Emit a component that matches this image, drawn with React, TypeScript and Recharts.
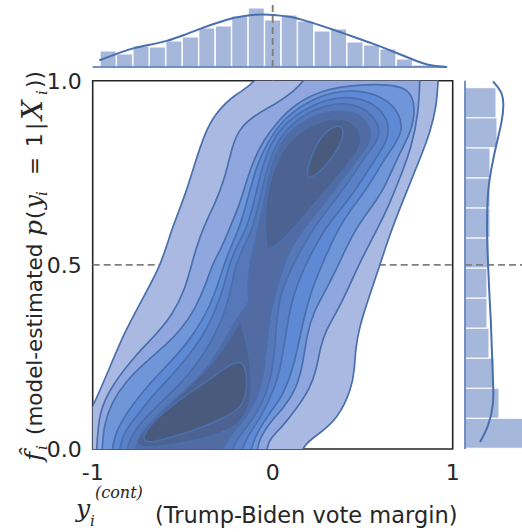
import React from "react";
import {
  Bar,
  ComposedChart,
  ReferenceArea,
  ReferenceLine,
  Scatter,
  ScatterChart,
  XAxis,
  YAxis,
} from "recharts";

// ---------------------------------------------------------------------------
// Data
// ---------------------------------------------------------------------------

const X_TICKS = [-1, 0, 1];
const Y_TICKS = [0, 0.5, 1];

type Pt = [number, number];

// KDE contour bands (x = vote margin, y = model estimate), outermost first.
// Points past the frame are clipped by the plot area.
const level1: Pt[] = [
  [-1.15, -0.02], [-1.0, 0.11], [-0.89, 0.24], [-0.82, 0.32], [-0.71, 0.42], [-0.62, 0.5],
  [-0.56, 0.6], [-0.485, 0.69], [-0.43, 0.78], [-0.375, 0.86], [-0.32, 0.91], [-0.21, 0.965],
  [-0.06, 1.0], [0.03, 1.15], [0.93, 1.15], [0.92, 1.0], [0.91, 0.93], [0.875, 0.86],
  [0.82, 0.79], [0.745, 0.7], [0.655, 0.59], [0.596, 0.5], [0.54, 0.42], [0.48, 0.33],
  [0.46, 0.27], [0.455, 0.22], [0.44, 0.165], [0.36, 0.08], [0.245, 0.037], [0.14, 0.0],
  [0.08, -0.15], [-1.15, -0.15],
];
const level2: Pt[] = [
  [-0.99, -0.15], [-0.978, 0.0], [-0.967, 0.1], [-0.893, 0.173], [-0.763, 0.254],
  [-0.652, 0.309], [-0.559, 0.363], [-0.485, 0.435], [-0.448, 0.508], [-0.393, 0.595],
  [-0.319, 0.667], [-0.263, 0.739], [-0.226, 0.821], [-0.189, 0.866], [-0.115, 0.902],
  [0.006, 0.934], [0.217, 1.0], [0.26, 1.15], [0.82, 1.15], [0.819, 1.0], [0.809, 0.911],
  [0.772, 0.821], [0.717, 0.748], [0.643, 0.658], [0.569, 0.586], [0.476, 0.499],
  [0.42, 0.435], [0.356, 0.372], [0.291, 0.318], [0.263, 0.272], [0.244, 0.218],
  [0.207, 0.164], [0.133, 0.11], [0.059, 0.064], [-0.015, 0.028], [-0.04, 0.0], [-0.06, -0.15],
];
const level3: Pt[] = [
  [-0.96, -0.15], [-0.948, 0.0], [-0.939, 0.064], [-0.893, 0.128], [-0.819, 0.182],
  [-0.707, 0.236], [-0.596, 0.281], [-0.504, 0.327], [-0.43, 0.381], [-0.374, 0.444],
  [-0.337, 0.5], [-0.281, 0.549], [-0.23, 0.61], [-0.18, 0.67], [-0.15, 0.72], [-0.11, 0.78],
  [-0.05, 0.84], [0.03, 0.89], [0.12, 0.935], [0.27, 0.975], [0.47, 0.99], [0.67, 0.99],
  [0.76, 0.975], [0.795, 0.93], [0.77, 0.86], [0.7, 0.8], [0.615, 0.7], [0.53, 0.645],
  [0.45, 0.59], [0.365, 0.5], [0.3, 0.435], [0.226, 0.372], [0.189, 0.309], [0.17, 0.236],
  [0.133, 0.164], [0.059, 0.11], [-0.015, 0.073], [-0.07, 0.03], [-0.09, 0.0], [-0.11, -0.15],
];
const level4: Pt[] = [
  [-0.91, -0.15], [-0.9, 0.0], [-0.86, 0.06], [-0.78, 0.12], [-0.68, 0.18], [-0.57, 0.235],
  [-0.47, 0.29], [-0.39, 0.35], [-0.33, 0.41], [-0.29, 0.47], [-0.25, 0.53], [-0.185, 0.6],
  [-0.15, 0.66], [-0.117, 0.72], [-0.08, 0.78], [-0.02, 0.84], [0.06, 0.895], [0.18, 0.94],
  [0.33, 0.97], [0.48, 0.975], [0.62, 0.955], [0.71, 0.91], [0.72, 0.86], [0.67, 0.82],
  [0.61, 0.78], [0.53, 0.71], [0.44, 0.655], [0.365, 0.6], [0.272, 0.5], [0.207, 0.42],
  [0.161, 0.33], [0.124, 0.236], [0.06, 0.146], [-0.015, 0.1], [-0.08, 0.05], [-0.13, 0.0],
  [-0.15, -0.15],
];
const level5: Pt[] = [
  [-0.87, -0.15], [-0.86, 0.0], [-0.82, 0.05], [-0.74, 0.1], [-0.64, 0.16], [-0.54, 0.21],
  [-0.44, 0.27], [-0.36, 0.33], [-0.3, 0.4], [-0.26, 0.46], [-0.244, 0.5], [-0.19, 0.56],
  [-0.144, 0.6], [-0.11, 0.66], [-0.08, 0.72], [-0.05, 0.78], [0.0, 0.84], [0.08, 0.89],
  [0.2, 0.93], [0.34, 0.955], [0.48, 0.955], [0.59, 0.93], [0.655, 0.88], [0.63, 0.83],
  [0.56, 0.78], [0.47, 0.71], [0.37, 0.645], [0.29, 0.6], [0.18, 0.5], [0.115, 0.42],
  [0.085, 0.35], [0.06, 0.27], [0.03, 0.19], [-0.03, 0.12], [-0.1, 0.06], [-0.19, 0.0],
  [-0.21, -0.15],
];
const level6: Pt[] = [
  [-0.83, -0.15], [-0.82, 0.0], [-0.77, 0.05], [-0.68, 0.1], [-0.57, 0.15], [-0.47, 0.2],
  [-0.38, 0.26], [-0.31, 0.32], [-0.26, 0.38], [-0.225, 0.45], [-0.207, 0.5], [-0.16, 0.55],
  [-0.111, 0.6], [-0.08, 0.66], [-0.052, 0.72], [-0.02, 0.78], [0.03, 0.84], [0.12, 0.89],
  [0.24, 0.925], [0.36, 0.94], [0.47, 0.935], [0.56, 0.905], [0.6, 0.865], [0.575, 0.83],
  [0.52, 0.8], [0.43, 0.73], [0.32, 0.66], [0.226, 0.6], [0.11, 0.5], [0.04, 0.42],
  [0.02, 0.34], [0.01, 0.26], [-0.01, 0.19], [-0.06, 0.12], [-0.14, 0.06], [-0.25, 0.0],
  [-0.27, -0.15],
];
const level7: Pt[] = [
  [-0.79, -0.15], [-0.78, 0.0], [-0.72, 0.04], [-0.62, 0.09], [-0.51, 0.14], [-0.41, 0.19],
  [-0.32, 0.25], [-0.25, 0.31], [-0.19, 0.36], [-0.13, 0.4], [-0.13, 0.4], [-0.14, 0.45],
  [-0.12, 0.52], [-0.08, 0.6], [-0.05, 0.66], [-0.03, 0.72], [0.0, 0.78], [0.05, 0.84],
  [0.14, 0.88], [0.25, 0.91], [0.36, 0.92], [0.46, 0.915], [0.53, 0.885], [0.55, 0.85],
  [0.52, 0.815], [0.485, 0.8], [0.4, 0.74], [0.3, 0.675], [0.17, 0.6], [0.07, 0.52],
  [0.03, 0.45], [-0.01, 0.38], [-0.03, 0.3], [-0.045, 0.22], [-0.08, 0.14], [-0.17, 0.07],
  [-0.31, 0.0], [-0.33, -0.15],
];
const level8Upper: Pt[] = [
  [-0.03, 0.54], [-0.03, 0.54], [-0.045, 0.6], [-0.04, 0.66], [-0.02, 0.72], [0.02, 0.78],
  [0.08, 0.83], [0.16, 0.865], [0.26, 0.89], [0.36, 0.9], [0.44, 0.89], [0.495, 0.86],
  [0.49, 0.82], [0.43, 0.78], [0.33, 0.72], [0.22, 0.66], [0.12, 0.6], [0.03, 0.555],
];
const level8Lower: Pt[] = [
  [-0.77, 0.015], [-0.71, 0.055], [-0.59, 0.115], [-0.45, 0.175], [-0.33, 0.235],
  [-0.25, 0.29], [-0.18, 0.35], [-0.18, 0.35], [-0.15, 0.3], [-0.125, 0.24], [-0.115, 0.17],
  [-0.13, 0.11], [-0.19, 0.065], [-0.3, 0.04], [-0.45, 0.02], [-0.6, 0.008], [-0.72, 0.003],
];
const level9Upper: Pt[] = [
  [0.18, 0.742], [0.235, 0.825], [0.305, 0.868], [0.378, 0.882], [0.4, 0.86], [0.36, 0.81],
  [0.285, 0.762], [0.205, 0.732],
];
const level9Lower: Pt[] = [
  [-0.73, 0.028], [-0.675, 0.07], [-0.54, 0.128], [-0.39, 0.175], [-0.26, 0.222],
  [-0.185, 0.242], [-0.145, 0.22], [-0.143, 0.15], [-0.182, 0.108], [-0.28, 0.082],
  [-0.41, 0.055], [-0.56, 0.032], [-0.69, 0.014],
];

const CONTOURS: Pt[][] = [
  level1, level2, level3, level4, level5, level6, level7,
  level8Upper, level8Lower, level9Upper, level9Lower,
];

// Top marginal: histogram of vote margin (bin centres, bar heights) + KDE
const topBinCenters = [
  -0.913, -0.822, -0.73, -0.639, -0.547, -0.456, -0.364, -0.273, -0.181, -0.09,
  0.002, 0.093, 0.185, 0.276, 0.368, 0.459, 0.551, 0.642, 0.733, 0.825,
];
const topCounts = [16, 13, 21, 20, 26, 30, 39, 41, 51, 59, 47, 52, 46, 36, 38, 25, 22, 18, 8, 2];
const topKdeX = [
  -0.963, -0.867, -0.774, -0.682, -0.589, -0.497, -0.404, -0.311, -0.219, -0.126, -0.043,
  -0.006, 0.096, 0.189, 0.281, 0.374, 0.467, 0.559, 0.652, 0.744, 0.837, 0.892, 0.967,
];
const topKdeH = [
  6.7, 13.3, 19, 22.3, 25.7, 31.7, 38.3, 44, 49.3, 52.3, 52.7,
  52.3, 50.7, 46, 40.7, 35, 29, 23.3, 16.7, 10, 3.3, 1, 0,
];

// Right marginal: histogram of model estimate (bottom bin first) + KDE
const rightBinCenters = [0.043, 0.125, 0.206, 0.288, 0.37, 0.451, 0.533, 0.614, 0.696, 0.777, 0.859, 0.94];
const rightCounts = [62, 34, 29, 24, 22, 22, 24, 25, 25, 25, 32, 31];
const rightKdeY = [
  0.002, 0.029, 0.065, 0.111, 0.165, 0.228, 0.291, 0.364, 0.427, 0.495, 0.563, 0.654,
  0.744, 0.816, 0.88, 0.943, 0.981,
];
const rightKdeW = [28, 37, 39, 37, 32, 27, 23, 22, 22, 23, 24, 26, 27, 28, 29, 23, 15];

// ---------------------------------------------------------------------------
// Styling
// ---------------------------------------------------------------------------

const LEVEL_FILLS = [
  "#aab9e1", "#8fa6de", "#7096da", "#5e89d5", "#5a80c8", "#5677b8",
  "#526ca3", "#4e6292", "#4e6292", "#4a5a7d", "#4a5a7d",
];
const LINE_BLUE = "#4a6fad";
const HIST_FILL = "#a6b7dc";
const DASH = "#7f7f7f";
const TEXT = "#262626";
const FONT = "'DejaVu Sans', sans-serif";
const MATH_FONT = "'DejaVu Serif', serif";

const NoDot = () => null;

const toXY = (pts: Pt[]) => pts.map(([x, y]) => ({ x, y }));

const topHist = topBinCenters.map((bin, i) => ({ bin, n: topCounts[i] }));
const topKde = topKdeX.map((x, i) => ({ x, h: topKdeH[i] }));
const rightHist = rightBinCenters.map((bin, i) => ({ bin, n: rightCounts[i] }));
const rightKde = rightKdeY.map((y, i) => ({ y, w: rightKdeW[i] }));

// ---------------------------------------------------------------------------
// Axis titles (LaTeX-style math approximated with tspans)
// ---------------------------------------------------------------------------

const mathStyle = { fontFamily: MATH_FONT, fontStyle: "italic" as const, fontSize: 25 };
const subStyle = { fontFamily: MATH_FONT, fontStyle: "italic" as const, fontSize: 15 };

function XTitle() {
  return (
    <text fill={TEXT} fontFamily={FONT} fontSize={22.5} style={{ whiteSpace: "pre" }}>
      <tspan x={76} y={517} {...mathStyle}>y</tspan>
      <tspan x={90} y={526} {...subStyle}>i</tspan>
      <tspan x={95} y={498} {...subStyle} fontSize={16}>(cont)</tspan>
      <tspan x={155} y={523}>(Trump-Biden vote margin)</tspan>
    </text>
  );
}

// rotated frame: local x = -page y, local y = page x
function YTitle() {
  return (
    <text
      transform="rotate(-90)"
      fill={TEXT}
      fontFamily={FONT}
      fontSize={21.5}
      style={{ whiteSpace: "pre" }}
    >
      <tspan x={-461} y={42} {...mathStyle}>{"f\u0302"}</tspan>
      <tspan x={-450} y={47} {...subStyle}>i</tspan>
      <tspan x={-435} y={42}>(model-estimated</tspan>
      <tspan x={-236} y={42} {...mathStyle}>p</tspan>
      <tspan x={-219} y={42}>(</tspan>
      <tspan x={-209} y={42} {...mathStyle}>y</tspan>
      <tspan x={-196} y={47} {...subStyle}>i</tspan>
      <tspan x={-175} y={42}>=</tspan>
      <tspan x={-147} y={42}>1</tspan>
      <tspan x={-130} y={42}>|</tspan>
      <tspan x={-120} y={42} {...mathStyle} fontSize={28}>X</tspan>
      <tspan x={-95} y={47} {...subStyle}>i</tspan>
      <tspan x={-88} y={42}>))</tspan>
    </text>
  );
}

// ---------------------------------------------------------------------------
// Component
// ---------------------------------------------------------------------------

export default function App() {
  const tick = { fontSize: 22, fill: TEXT, fontFamily: FONT };

  return (
    <div
      style={{
        position: "absolute",
        left: 0,
        top: 0,
        width: 522,
        height: 532,
        background: "#fff",
        overflow: "hidden",
      }}
    >
      {/* joint KDE */}
      <div style={{ position: "absolute", left: 0, top: 0 }}>
        <ScatterChart
          width={522}
          height={532}
          margin={{ top: 80.7, right: 69.3, bottom: 0, left: 0 }}
        >
          <XAxis
            dataKey="x"
            type="number"
            domain={[-1, 1]}
            ticks={X_TICKS}
            allowDataOverflow
            height={83}
            axisLine={false}
            tickLine={false}
            tickMargin={9}
            tick={tick}
            tickFormatter={(v: number) => String(v)}
            label={<XTitle />}
          />
          <YAxis
            dataKey="y"
            type="number"
            domain={[0, 1]}
            ticks={Y_TICKS}
            allowDataOverflow
            width={92.7}
            axisLine={false}
            tickLine={false}
            tickMargin={5}
            tick={tick}
            tickFormatter={(v: number) => v.toFixed(1)}
            label={<YTitle />}
          />
          {CONTOURS.map((pts, i) => (
            <Scatter
              key={i}
              data={toXY(pts)}
              line={{ fill: LEVEL_FILLS[i], stroke: LINE_BLUE, strokeWidth: 1.7 }}
              lineType="joint"
              lineJointType="basisClosed"
              shape={NoDot}
              isAnimationActive={false}
            />
          ))}
          <ReferenceLine x={0} stroke={DASH} strokeWidth={1.9} strokeDasharray="7 4" />
          <ReferenceLine y={0.5} stroke={DASH} strokeWidth={1.9} strokeDasharray="7 4" />
          <ReferenceArea
            x1={-1}
            x2={1}
            y1={0}
            y2={1}
            fill="none"
            stroke="#262626"
            strokeWidth={1.6}
            ifOverflow="visible"
          />
        </ScatterChart>
      </div>

      {/* top marginal */}
      <div style={{ position: "absolute", left: 0, top: 0 }}>
        <ComposedChart
          width={522}
          height={80}
          data={topHist}
          barCategoryGap={0}
          margin={{ top: 4, right: 69.3, bottom: 13, left: 92.7 }}
        >
          <XAxis xAxisId="bins" dataKey="bin" type="category" hide padding={{ left: 7.4, right: 23.4 }} />
          <XAxis xAxisId="num" dataKey="x" type="number" domain={[-1, 1]} allowDataOverflow hide />
          <YAxis type="number" domain={[0, 63]} hide />
          <Bar
            xAxisId="bins"
            dataKey="n"
            fill={HIST_FILL}
            stroke="#fff"
            strokeWidth={1}
            isAnimationActive={false}
          />
          <ReferenceLine
            xAxisId="num"
            segment={[{ x: -1, y: 0 }, { x: 0.97, y: 0 }]}
            stroke={LINE_BLUE}
            strokeWidth={1.5}
          />
          <Scatter
            xAxisId="num"
            data={topKde}
            dataKey="h"
            line={{ stroke: LINE_BLUE, strokeWidth: 2 }}
            lineType="joint"
            lineJointType="basis"
            shape={NoDot}
            isAnimationActive={false}
          />
          <ReferenceLine xAxisId="num" x={0} stroke={DASH} strokeWidth={1.9} strokeDasharray="7 4" />
        </ComposedChart>
      </div>

      {/* right marginal */}
      <div style={{ position: "absolute", left: 455, top: 0 }}>
        <ComposedChart
          width={67}
          height={532}
          layout="vertical"
          data={rightHist}
          barCategoryGap={0}
          margin={{ top: 80.7, right: 0, bottom: 83, left: 10 }}
        >
          <XAxis type="number" domain={[0, 57]} allowDataOverflow hide />
          <YAxis
            yAxisId="bins"
            dataKey="bin"
            type="category"
            reversed
            hide
            padding={{ top: 7, bottom: 0.7 }}
          />
          <YAxis yAxisId="num" dataKey="y" type="number" domain={[0, 1]} hide />
          <Bar
            yAxisId="bins"
            dataKey="n"
            fill={HIST_FILL}
            stroke="#fff"
            strokeWidth={1}
            isAnimationActive={false}
          />
          <ReferenceLine yAxisId="num" x={0} stroke={LINE_BLUE} strokeWidth={1.5} />
          <Scatter
            yAxisId="num"
            data={rightKde}
            dataKey="w"
            line={{ stroke: LINE_BLUE, strokeWidth: 2 }}
            lineType="joint"
            lineJointType="basis"
            shape={NoDot}
            isAnimationActive={false}
          />
          <ReferenceLine yAxisId="num" y={0.5} stroke={DASH} strokeWidth={1.9} strokeDasharray="7 4" />
        </ComposedChart>
      </div>
    </div>
  );
}
